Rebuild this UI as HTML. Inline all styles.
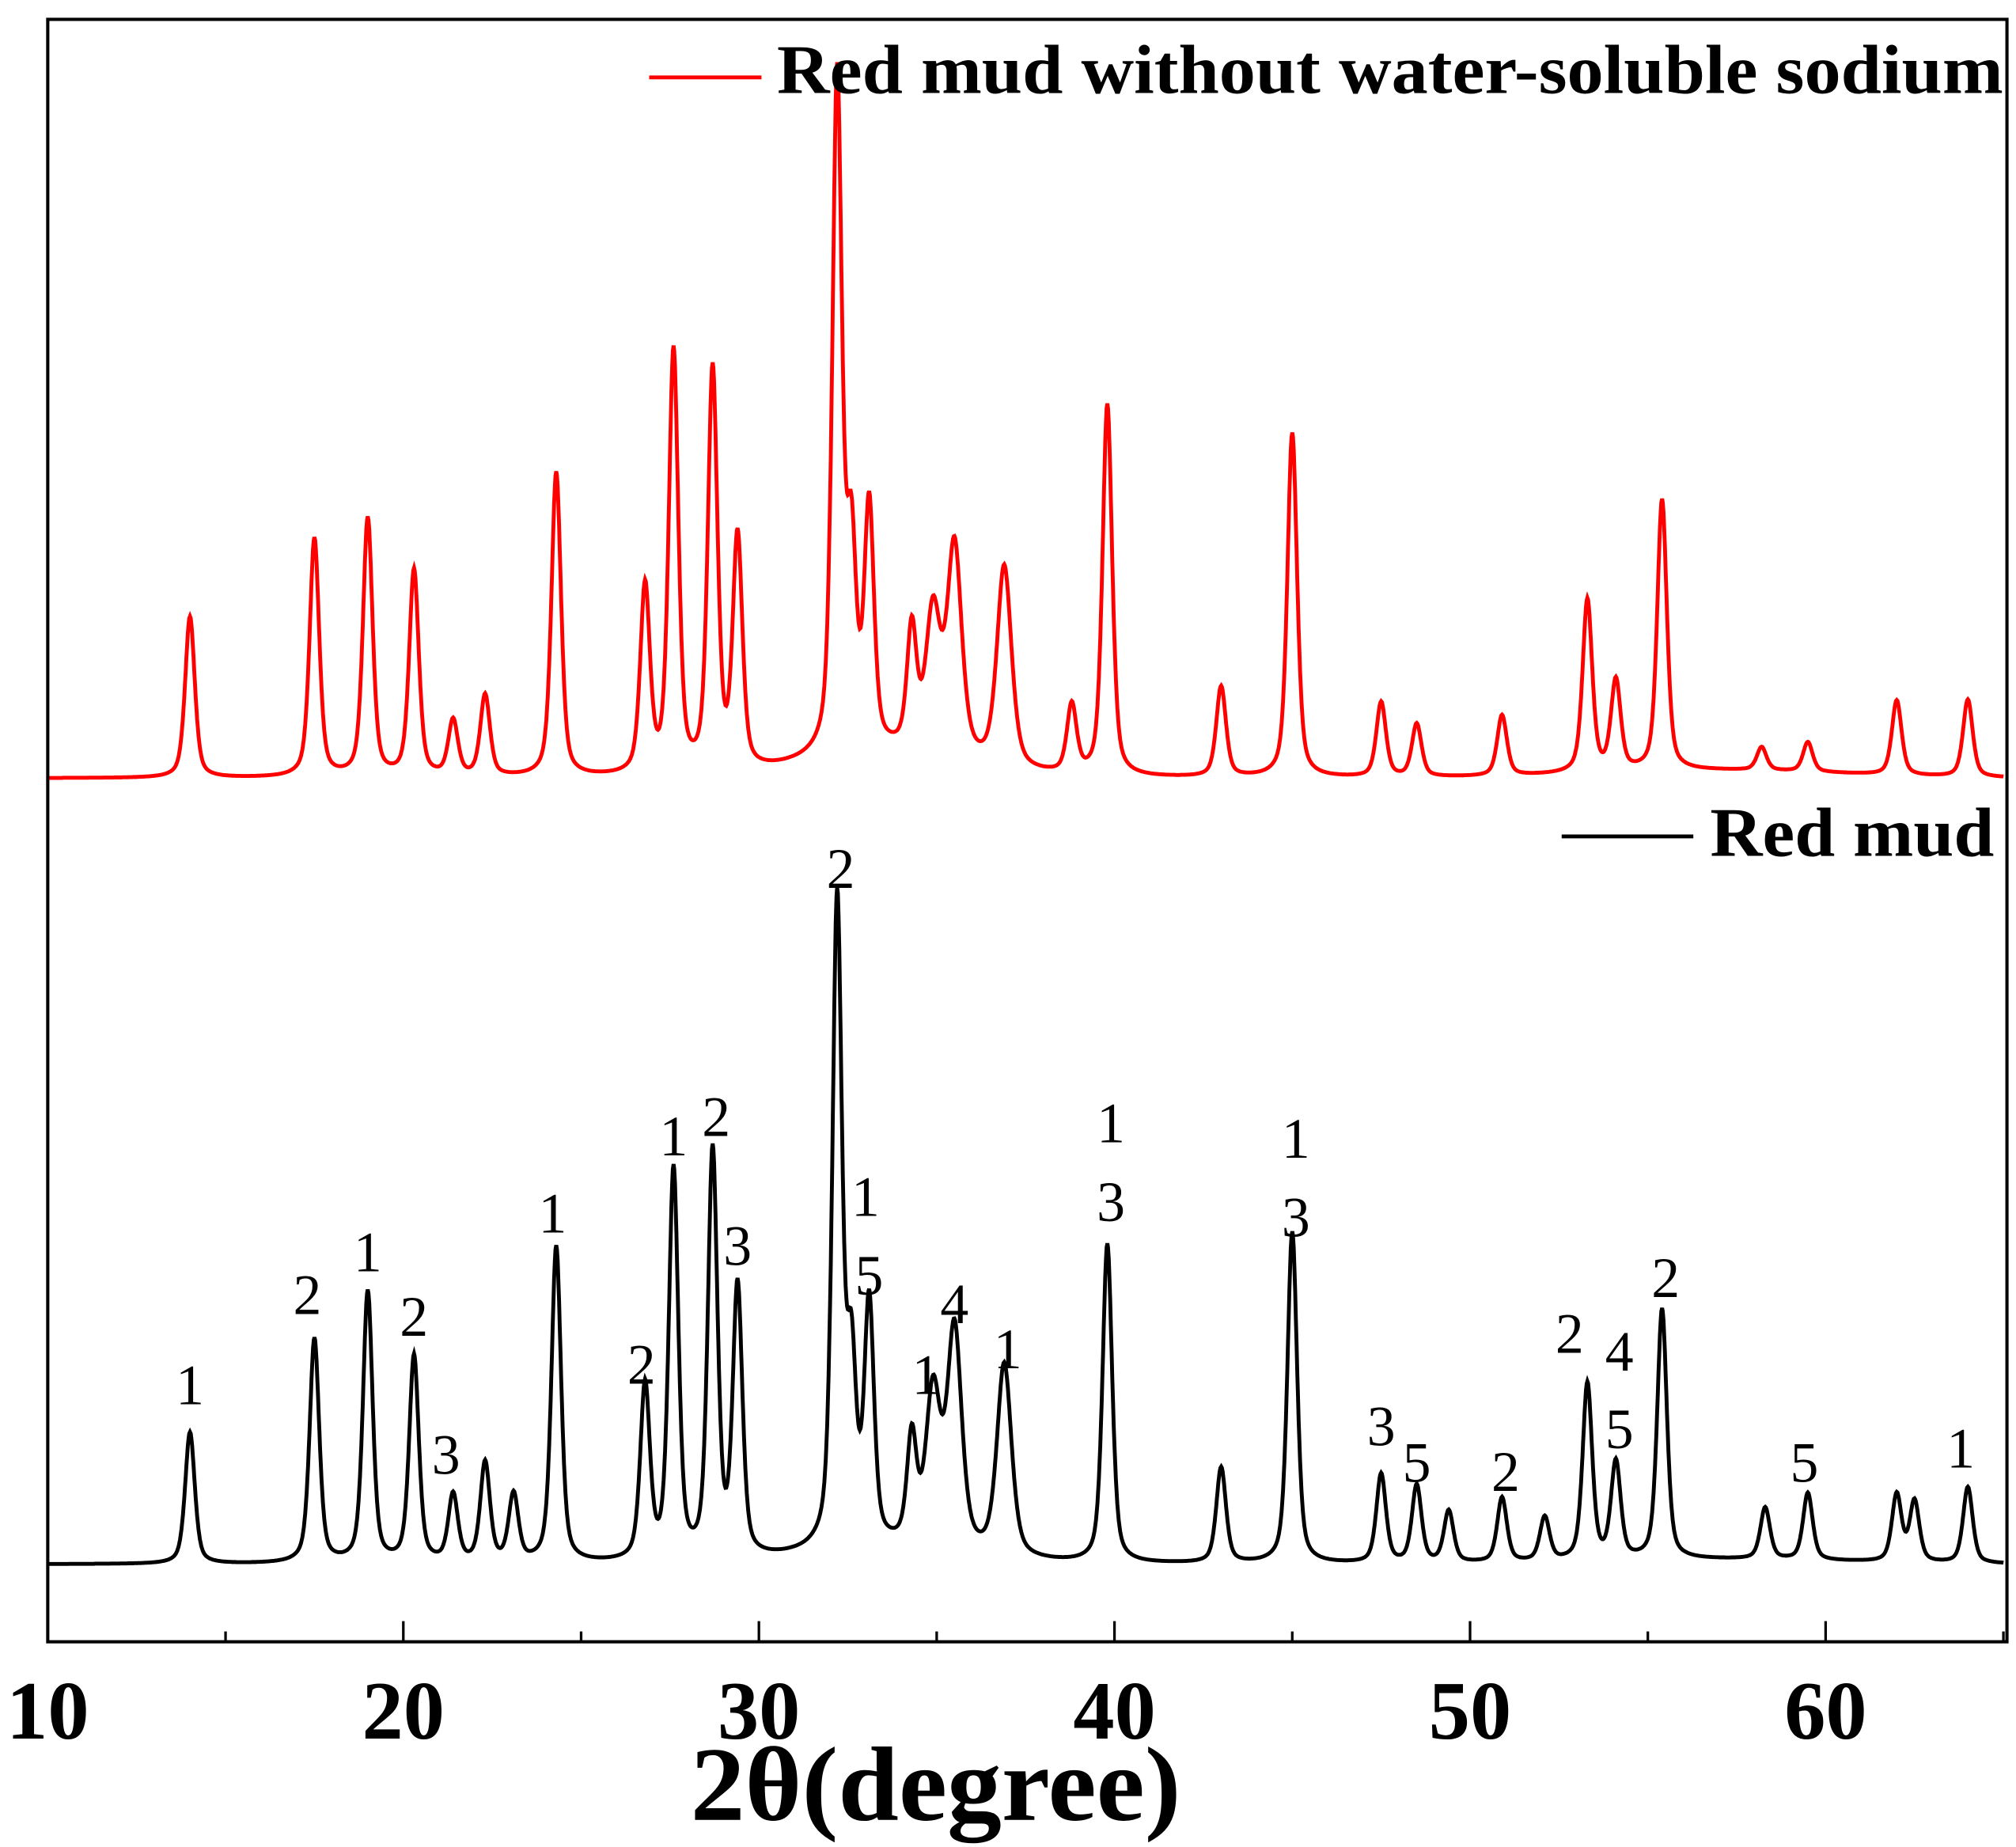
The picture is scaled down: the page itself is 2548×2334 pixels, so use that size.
<!DOCTYPE html>
<html><head><meta charset="utf-8"><style>
html,body{margin:0;padding:0;background:#fff;}
svg{display:block;}
text{font-family:"Liberation Serif",serif;}
</style></head><body>
<svg id="chart" width="2548" height="2334" viewBox="0 0 1562 1431" preserveAspectRatio="none" xmlns="http://www.w3.org/2000/svg">
<rect x="0" y="0" width="1562" height="1431" fill="#fff"/>
<g id="series"></g>
<rect x="37" y="15" width="1518" height="1257" fill="none" stroke="#000" stroke-width="2.5"/>
<g id="ticks"></g>
<g id="labels"></g>
<line x1="503" y1="60" x2="590" y2="60" stroke="#f00" stroke-width="3"/>
<text x="602" y="72" font-size="54" font-weight="bold" textLength="950" lengthAdjust="spacingAndGlyphs">Red mud without water-soluble sodium</text>
<line x1="1210" y1="648" x2="1312" y2="648" stroke="#000" stroke-width="3"/>
<text x="1325" y="663" font-size="54" font-weight="bold" textLength="220" lengthAdjust="spacingAndGlyphs">Red mud</text>
<text x="535" y="1410" font-size="82" font-weight="bold" textLength="380" lengthAdjust="spacingAndGlyphs">2θ(degree)</text>
</svg>
<script>
const xTicks=[10,20,30,40,50,60];
const xMinor=[15,25,35,45,55,65];
const blackPos=[14.0,17.5,19.0,20.3,21.4,22.3,23.1,24.3,26.8,27.6,28.7,29.4,32.2,32.6,33.1,34.3,34.9,35.5,36.9,39.8,43.0,45.0,47.5,48.5,49.4,50.9,52.1,53.3,54.1,55.4,58.3,59.5,62.0,62.5,64.0];
const blackH=[102,174,210,160,52,77,52,245,135,302,315,209,500,137,185,82,119,170,149,247,74,257,69,60,40,50,34,137,75,194,40,52,52,47,59];
const redPos=[14.0,17.5,19.0,20.3,21.4,22.3,24.3,26.8,27.6,28.7,29.4,32.2,32.6,33.1,34.3,34.9,35.5,36.9,38.8,39.8,43.0,45.0,47.5,48.5,50.9,53.3,54.1,55.4,58.2,59.5,62.0,64.0];
const redH=[125,185,200,160,43,63,236,145,327,311,180,523,153,186,93,108,163,156,53,288,70,267,58,41,47,134,70,210,18,23,58,60];
const annText=["1","2","1","2","3","1","2","1","2","3","2","1","5","1","4","1","1","3","1","3","3","5","2","2","4","5","2","5","1"];
const annDeg=[14.0,17.3,19.0,20.3,21.2,24.2,26.7,27.6,28.8,29.4,32.3,33.0,33.1,34.7,35.5,37.0,39.9,39.9,45.1,45.1,47.5,48.5,51.0,52.8,54.2,54.2,55.5,59.4,63.8];
const annY=[1088,1018,985,1035,1142,955,1072,895,880,980,688,942,1003,1080,1025,1060,885,946,897,958,1120,1148,1155,1048,1062,1122,1005,1148,1137];
const blackBase=1212, redBase=603;
const X=d=>37+(d-10)*27.55;
const NS="http://www.w3.org/2000/svg";
function bg(d){return 18*Math.exp(-Math.pow((d-33.5)/3,2))+6*Math.exp(-Math.pow((d-57)/5,2));}
function curve(pos,h,base,t){
  let pts=[];
  for(let d=10;d<=65.001;d+=0.02){
    let y=bg(d)*t;
    for(let i=0;i<pos.length;i++){
      const w=(pos[i]>34.5&&pos[i]<37.5)?0.24:0.16;
      const u=(d-pos[i])/w;
      y+=h[i]*(0.5/(1+u*u)+0.5*Math.exp(-u*u*0.69));
    }
    pts.push(X(d).toFixed(1)+","+(base-y).toFixed(1));
  }
  return pts.join(" ");
}
const g=document.getElementById("series");
let pr=document.createElementNS(NS,"polyline");


pr.setAttribute("points",curve(redPos,redH,redBase,1));
pr.setAttribute("fill","none");pr.setAttribute("stroke","#f00");pr.setAttribute("stroke-width","3");
g.appendChild(pr);
let pb=document.createElementNS(NS,"polyline");


pb.setAttribute("points",curve(blackPos,blackH,blackBase,0.6));
pb.setAttribute("fill","none");pb.setAttribute("stroke","#000");pb.setAttribute("stroke-width","3");
g.appendChild(pb);
const tg=document.getElementById("ticks");
xTicks.forEach(v=>{
  let l=document.createElementNS(NS,"line");
  
  
  l.setAttribute("x1",X(v));l.setAttribute("x2",X(v));l.setAttribute("y1",1272);l.setAttribute("y2",1256);
  l.setAttribute("stroke","#000");l.setAttribute("stroke-width","2");tg.appendChild(l);
  let t=document.createElementNS(NS,"text");
  
  
  t.setAttribute("x",X(v));t.setAttribute("y",1347);t.setAttribute("font-size","64");t.setAttribute("font-weight","bold");t.setAttribute("text-anchor","middle");
  t.textContent=v;tg.appendChild(t);
});
xMinor.forEach(v=>{
  let l=document.createElementNS(NS,"line");
  
  
  l.setAttribute("x1",X(v));l.setAttribute("x2",X(v));l.setAttribute("y1",1272);l.setAttribute("y2",1264);
  l.setAttribute("stroke","#000");l.setAttribute("stroke-width","2");tg.appendChild(l);
});
const lg=document.getElementById("labels");
annText.forEach((s,i)=>{
  let t=document.createElementNS(NS,"text");
  
  
  t.setAttribute("x",X(annDeg[i]));t.setAttribute("y",annY[i]);t.setAttribute("font-size","44");t.setAttribute("text-anchor","middle");
  t.textContent=s;lg.appendChild(t);
});
</script>
</body></html>
